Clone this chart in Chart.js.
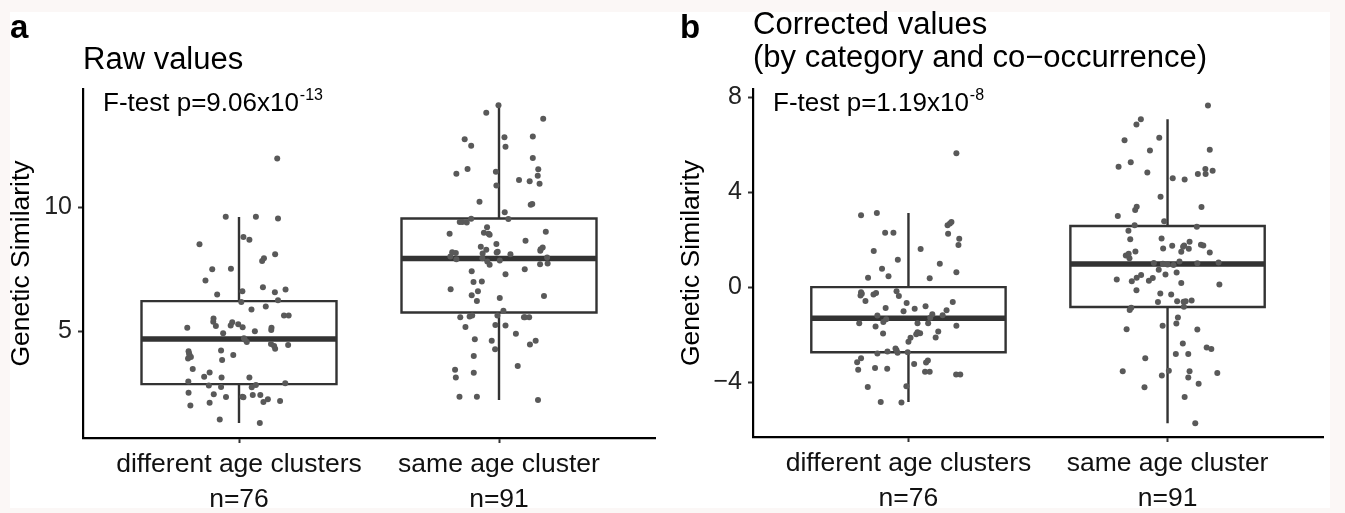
<!DOCTYPE html>
<html><head><meta charset="utf-8">
<script src="https://cdn.jsdelivr.net/npm/chart.js@4.4.1/dist/chart.umd.min.js"></script>
<style>
html,body{margin:0;padding:0;}
body{width:1345px;height:513px;background:#fbf7f6;position:relative;overflow:hidden;font-family:"Liberation Sans",Arial,Helvetica,sans-serif;}
#paper{position:absolute;left:10px;top:12px;width:1320px;height:496px;background:#fff;}
.cv{position:absolute;top:0;}
#wa{left:0;}
#wb{left:672px;}
.letter{position:absolute;font-weight:bold;font-size:33px;color:#000;line-height:1;}
.ftest{position:absolute;font-size:26px;color:#000;line-height:1;white-space:nowrap;}
.ftest sup{font-size:16px;vertical-align:0;position:relative;top:-11px;margin-left:1px;}
</style></head><body>
<div id="paper"></div>
<div class="cv" id="wa"><canvas id="ca" width="672" height="513"></canvas></div>
<div class="cv" id="wb"><canvas id="cb" width="673" height="513"></canvas></div>
<div class="letter" style="left:10px;top:10px">a</div>
<div class="letter" style="left:680px;top:10px">b</div>
<div class="ftest" style="left:103px;top:89px">F-test p=9.06x10<sup>-13</sup></div>
<div class="ftest" style="left:773px;top:89px">F-test p=1.19x10<sup>-8</sup></div>
<script>
// ---------- data ----------
const categories = ["different age clusters", "same age cluster"];
const counts = [76, 91];

const rawTicks = [5, 10];
const corrTicks = [-4, 0, 4, 8];

// box statistics per category (whisker low, Q1, median, Q3, whisker high)
const rawWhiskLow = [1.29, 2.22];
const rawQ1 = [2.86, 5.75];
const rawMedian = [4.68, 7.93];
const rawQ3 = [6.21, 9.54];
const rawWhiskHigh = [9.60, 14.10];

const corrWhiskLow = [-4.84, -5.73];
const corrQ1 = [-2.74, -0.84];
const corrMedian = [-1.31, 0.97];
const corrQ3 = [0.00, 2.57];
const corrWhiskHigh = [3.12, 7.07];

// raw values, different age clusters: value and horizontal jitter (category units)
const rawDiffY = [11.96,9.61,9.61,9.54,8.79,8.68,8.50,8.10,7.94,7.83,7.49,7.51,7.04,6.77,6.57,6.68,6.48,6.61,6.17,6.24,5.87,5.99,5.63,5.63,5.51,5.38,5.21,5.13,5.36,5.23,5.28,5.15,4.91,4.99,5.13,5.04,4.71,4.56,4.48,4.29,4.44,4.19,4.03,3.96,3.90,4.22,4.04,3.83,3.47,3.33,3.16,3.13,3.13,2.97,2.90,2.81,2.75,2.74,2.83,2.51,2.45,2.34,2.35,2.42,2.42,2.25,2.14,2.18,2.00,2.11,1.44,1.29,4.66,4.40,2.33,4.10];
const rawDiffJitter = [0.147,-0.051,0.065,0.150,0.017,0.040,-0.152,0.139,0.096,0.089,-0.103,-0.031,-0.129,0.092,0.138,0.179,-0.084,0.013,0.009,0.150,0.048,0.103,0.173,0.191,-0.098,-0.099,-0.089,-0.199,-0.026,-0.032,-0.003,0.014,-0.061,0.061,0.125,0.124,0.019,0.030,0.123,0.139,0.189,-0.194,-0.190,-0.185,-0.196,-0.069,-0.022,-0.065,-0.178,-0.113,-0.134,-0.067,0.040,-0.195,0.178,-0.116,-0.069,0.049,0.065,-0.194,-0.097,-0.050,0.013,0.053,0.082,0.111,0.094,0.158,-0.187,-0.113,-0.074,0.080,0.022,0.135,0.017,-0.192];

// raw values, same age cluster
const rawSameY = [14.10,13.80,13.56,12.73,12.47,12.81,12.43,12.84,11.98,11.53,11.34,11.42,10.87,11.52,11.26,10.94,11.09,11.04,10.21,10.12,10.09,9.79,9.52,9.40,9.40,9.38,9.53,9.19,8.92,8.96,8.88,9.00,8.64,8.51,8.40,8.28,8.17,8.10,8.37,8.24,8.13,8.15,8.01,7.90,7.94,7.81,7.67,7.85,7.97,7.73,7.69,7.41,7.49,7.29,6.98,7.00,6.69,6.61,6.44,6.21,6.33,6.41,5.82,5.63,5.56,5.59,5.63,5.56,5.56,5.17,5.25,5.23,4.89,4.67,4.61,4.27,4.61,4.46,4.00,3.59,3.44,3.13,3.32,2.35,2.35,2.22,8.18,8.92,8.30,5.56,8.20];
const rawSameJitter = [-0.002,-0.049,0.170,-0.132,-0.107,0.021,0.025,0.130,0.130,-0.121,-0.164,-0.012,-0.010,0.151,0.149,0.156,0.077,0.118,-0.075,0.128,0.122,0.022,0.036,-0.151,-0.141,-0.124,-0.107,-0.046,-0.190,-0.058,-0.036,0.180,0.102,-0.010,-0.070,-0.049,-0.009,0.044,0.168,0.159,-0.063,-0.166,-0.187,-0.164,-0.064,-0.045,-0.036,0.003,0.185,0.187,0.158,-0.105,0.099,0.025,-0.098,-0.066,-0.186,-0.081,-0.105,-0.085,0.003,0.173,0.017,-0.006,-0.149,-0.113,-0.103,0.096,0.116,-0.129,-0.014,0.025,0.065,-0.093,-0.028,-0.015,0.141,0.119,-0.097,0.072,-0.169,-0.166,-0.097,-0.152,-0.085,0.150,-0.180,-0.040,0.160,0.100,-0.005];

// corrected values, different age clusters
const corrDiffY = [5.63,3.02,3.12,2.29,2.29,2.60,2.74,2.25,2.04,1.77,1.52,1.60,1.15,0.98,0.77,0.63,0.39,0.46,0.37,-0.22,-0.35,-0.31,-0.25,-0.17,-0.37,-0.58,-0.67,-0.91,-0.81,-0.88,-1.02,-0.63,-0.97,-1.19,-1.35,-1.47,-1.14,-1.29,-1.18,-1.52,-1.66,-1.52,-1.52,-1.63,-1.95,-1.98,-1.94,-2.13,-2.30,-1.87,-2.12,-2.79,-2.71,-2.58,-2.76,-2.74,-3.00,-3.16,-3.48,-3.41,-3.44,-3.24,-3.09,-3.17,-3.56,-3.56,-3.68,-3.68,-4.20,-4.17,-4.84,-4.86,-0.28,2.68,-2.66,-1.90];
const corrDiffJitter = [0.185,-0.183,-0.122,-0.090,-0.058,0.151,0.166,0.153,0.196,0.193,-0.134,0.047,-0.041,0.121,-0.102,0.185,-0.156,-0.077,0.082,-0.183,-0.185,-0.135,-0.125,-0.046,-0.037,-0.166,-0.007,0.024,0.066,-0.088,-0.019,0.171,0.147,-0.120,-0.086,-0.097,0.092,0.084,0.132,-0.190,-0.127,0.035,0.076,0.185,-0.098,0.030,0.045,0.008,0.000,0.115,0.105,-0.120,-0.081,-0.050,-0.042,-0.003,-0.183,-0.198,-0.194,-0.129,-0.082,0.022,0.075,0.068,0.064,0.082,0.184,0.200,-0.157,-0.008,-0.107,-0.027,-0.180,0.160,-0.046,0.035];

// corrected values, same age cluster
const corrSameY = [7.65,7.07,6.85,6.18,6.29,5.75,5.78,5.07,5.26,4.83,4.58,4.53,4.76,4.97,4.76,4.90,3.80,3.38,3.25,3.37,2.99,2.77,2.60,2.37,2.54,2.01,2.05,1.63,1.74,1.75,1.91,1.61,1.49,1.78,1.75,1.50,1.46,1.33,1.21,1.08,1.02,0.98,0.93,1.00,1.04,0.73,0.51,0.39,0.25,0.32,0.27,0.38,0.53,0.62,0.17,0.11,-0.13,-0.27,-0.31,-0.63,-0.59,-0.62,-0.56,-0.83,-0.87,-0.96,-1.28,-1.53,-1.77,-1.63,-1.78,-2.37,-2.54,-2.61,-2.99,-2.82,-2.82,-3.54,-3.52,-3.72,-3.54,-3.80,-3.62,-4.07,-4.22,-4.63,-5.73,1.70,1.40,0.95,-0.60];
const corrSameJitter = [0.156,-0.103,-0.120,-0.166,-0.032,-0.068,0.163,-0.189,-0.142,-0.078,0.020,0.066,0.117,0.146,0.147,0.174,-0.027,-0.119,-0.125,0.131,-0.192,-0.013,-0.127,-0.151,0.113,-0.144,-0.023,-0.017,0.018,0.064,0.085,0.082,0.053,0.129,0.138,-0.124,0.163,-0.161,-0.147,0.046,-0.053,-0.018,0.023,0.115,0.197,-0.034,-0.102,-0.119,-0.138,-0.196,-0.072,-0.057,-0.008,0.035,0.053,0.200,-0.120,-0.028,0.014,-0.037,0.037,0.062,0.093,0.063,-0.140,-0.146,0.040,0.034,-0.158,-0.019,0.115,0.059,0.151,0.169,-0.086,0.032,0.080,-0.173,0.005,-0.022,0.085,0.080,0.192,0.120,-0.089,0.066,0.107,0.060,-0.150,0.000,0.070];

// ---------- helpers ----------
const FONT = '"Liberation Sans", Arial, Helvetica, sans-serif';
const BOX_HALF = 0.375;

function pts(yArr, jArr, cat) {
  return yArr.map((y, i) => ({ x: cat + jArr[i], y: y }));
}
function boxOutline(q1, q3) {
  const d = [];
  q1.forEach((lo, i) => {
    const c = i + 1, hi = q3[i];
    d.push({x: c - BOX_HALF, y: lo}, {x: c + BOX_HALF, y: lo}, {x: c + BOX_HALF, y: hi},
           {x: c - BOX_HALF, y: hi}, {x: c - BOX_HALF, y: lo}, {x: c + BOX_HALF, y: lo}, {x: c, y: null});
  });
  return d;
}
function medians(med) {
  const d = [];
  med.forEach((m, i) => { const c = i + 1; d.push({x: c - BOX_HALF, y: m}, {x: c + BOX_HALF, y: m}, {x: c, y: null}); });
  return d;
}
function whiskers(lo, q1, q3, hi) {
  const d = [];
  lo.forEach((l, i) => {
    const c = i + 1;
    d.push({x: c, y: q3[i]}, {x: c, y: hi[i]}, {x: c, y: null}, {x: c, y: q1[i]}, {x: c, y: l}, {x: c, y: null});
  });
  return d;
}
function lineDs(data, width, order) {
  return { type: 'line', data, borderColor: '#333333', borderWidth: width, pointRadius: 0, pointHoverRadius: 0,
           fill: false, spanGaps: false, tension: 0, borderJoinStyle: 'miter', borderCapStyle: 'butt', order };
}
function ptDs(data) {
  return { type: 'scatter', data, backgroundColor: '#595959', borderWidth: 0, pointRadius: 3, pointHoverRadius: 3, order: 0 };
}
function fmt(v) { return v < 0 ? '\u2212' + Math.abs(v) : String(v); }

function makeChart(id, cfg) {
  return new Chart(document.getElementById(id), {
    type: 'scatter',
    data: { datasets: [
      ptDs(pts(cfg.diffY, cfg.diffJ, 1)),
      ptDs(pts(cfg.sameY, cfg.sameJ, 2)),
      lineDs(boxOutline(cfg.q1, cfg.q3), 2.4, 2),
      lineDs(medians(cfg.med), 5.5, 1),
      lineDs(whiskers(cfg.lo, cfg.q1, cfg.q3, cfg.hi), 2.4, 3)
    ]},
    options: {
      responsive: false, animation: false,
      layout: { padding: { left: 0, right: cfg.padRight, top: 0, bottom: 0 } },
      plugins: {
        legend: { display: false }, tooltip: { enabled: false },
        title: { display: true, text: cfg.title, align: 'start', fullSize: false, color: '#000',
                 font: { family: FONT, size: 31, weight: 'normal', lineHeight: 33 / 31 },
                 padding: cfg.titlePad }
      },
      scales: {
        x: {
          type: 'linear', min: 0.4, max: 2.6,
          afterBuildTicks: s => { s.ticks = [{ value: 1 }, { value: 2 }]; },
          afterFit: s => { s.height = cfg.xHeight; },
          ticks: { callback: v => [categories[v - 1], 'n=' + counts[v - 1]], color: '#111',
                   font: { family: FONT, size: 26.5, lineHeight: 35 / 26.5 }, padding: 4, maxRotation: 0, autoSkip: false },
          grid: { display: true, drawOnChartArea: false, drawTicks: true, tickLength: 5, tickColor: '#333', tickWidth: 2 },
          border: { display: true, color: '#000', width: 2.2 }
        },
        y: {
          type: 'linear', min: cfg.yMin, max: cfg.yMax,
          afterBuildTicks: s => { s.ticks = cfg.ticks.map(v => ({ value: v })); },
          afterFit: s => { s.width = cfg.yWidth; },
          ticks: { callback: v => fmt(v), color: '#222', font: { family: FONT, size: 25 }, padding: 6 },
          title: { display: true, text: 'Genetic Similarity', color: '#000',
                   font: { family: FONT, size: 26.5, lineHeight: 1.2 }, padding: { top: cfg.yTitlePad, bottom: 0 } },
          grid: { display: true, drawOnChartArea: false, drawTicks: true, tickLength: 5, tickColor: '#333', tickWidth: 2 },
          border: { display: true, color: '#000', width: 2.2 }
        }
      }
    }
  });
}

makeChart('ca', {
  diffY: rawDiffY, diffJ: rawDiffJitter, sameY: rawSameY, sameJ: rawSameJitter,
  lo: rawWhiskLow, q1: rawQ1, med: rawMedian, q3: rawQ3, hi: rawWhiskHigh,
  ticks: rawTicks, yMin: 0.69, yMax: 14.76, title: 'Raw values',
  titlePad: { top: 43.5, bottom: 12.5 }, padRight: 17, yWidth: 83, xHeight: 75, yTitlePad: 6
});
makeChart('cb', {
  diffY: corrDiffY, diffJ: corrDiffJitter, sameY: corrSameY, sameJ: corrSameJitter,
  lo: corrWhiskLow, q1: corrQ1, med: corrMedian, q3: corrQ3, hi: corrWhiskHigh,
  ticks: corrTicks, yMin: -6.31, yMax: 8.34, title: ['Corrected values', '(by category and co\u2212occurrence)'],
  titlePad: { top: 8.5, bottom: 14.5 }, padRight: 22, yWidth: 81, xHeight: 76, yTitlePad: 4
});
</script>
</body></html>
